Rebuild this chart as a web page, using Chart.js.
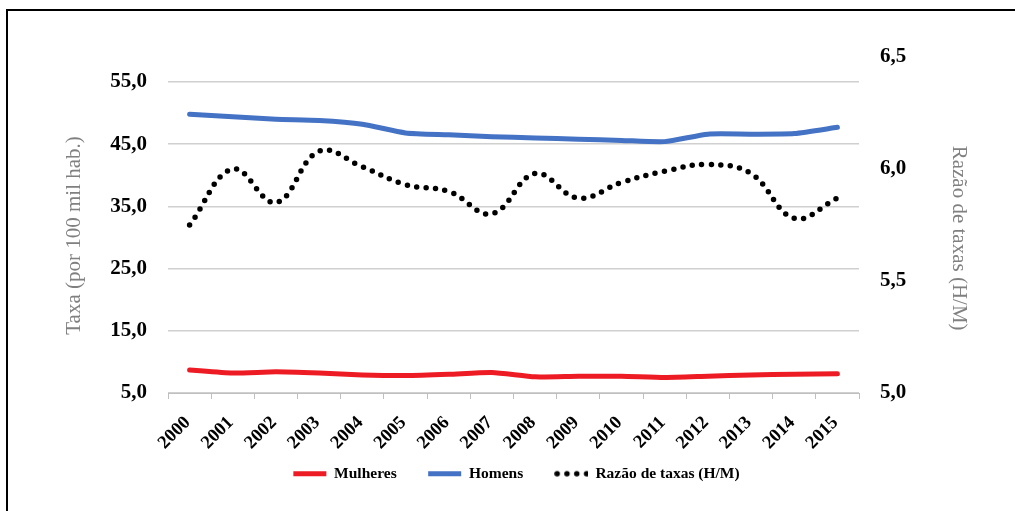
<!DOCTYPE html>
<html>
<head>
<meta charset="utf-8">
<script src="https://cdn.jsdelivr.net/npm/chart.js@4"></script>
<style>
  html, body { margin: 0; padding: 0; background: #fff; }
  #wrap { position: relative; width: 1015px; height: 511px; overflow: hidden; }
  #frame { position: absolute; left: 6px; top: 9px; width: 1100px; height: 600px;
           border-left: 2px solid #000; border-top: 2px solid #000; }
  #c { position: absolute; left: 0; top: 0; }
</style>
</head>
<body>
<div id="wrap">
  <div id="frame"></div>
  <canvas id="c" width="1015" height="511"></canvas>
</div>
<script>
// dados
const anos = ['2000','2001','2002','2003','2004','2005','2006','2007','2008','2009','2010','2011','2012','2013','2014','2015'];
const mulheres = [8.7, 8.2, 8.4, 8.2, 7.9, 7.8, 8.0, 8.3, 7.6, 7.7, 7.7, 7.5, 7.7, 7.9, 8.0, 8.1];
const homens = [49.8, 49.4, 49.0, 48.8, 48.2, 46.8, 46.5, 46.2, 46.0, 45.8, 45.6, 45.4, 46.6, 46.6, 46.7, 47.7];
const razao = [5.75, 6.00, 5.85, 6.08, 6.01, 5.93, 5.90, 5.80, 5.98, 5.87, 5.94, 5.99, 6.02, 5.98, 5.78, 5.87];

const ticksTaxa = [5, 15, 25, 35, 45, 55];
const ticksRazao = [5.0, 5.5, 6.0, 6.5];

const FONT = "'Liberation Serif', 'DejaVu Serif', serif";
const virgula = v => Number(v).toFixed(1).replace('.', ',');

// amostra pontilhada da legenda (o ponto 'line' sai sólido)
function amostraPontos() {
    const cv = document.createElement('canvas');
    cv.width = 34; cv.height = 8;
    const g = cv.getContext('2d');
    g.strokeStyle = '#000';
    g.lineWidth = 5.5;
    g.lineCap = 'round';
    g.setLineDash([0, 9.8]);
    g.beginPath();
    g.moveTo(3, 4);
    g.lineTo(33, 4);
    g.stroke();
    return cv;
}
const pontosLegenda = amostraPontos();

new Chart(document.getElementById('c'), {
    type: 'line',
    data: {
        labels: anos,
        datasets: [
            {
                label: 'Mulheres',
                data: mulheres,
                yAxisID: 'y',
                borderColor: '#ED1C24',
                backgroundColor: '#ED1C24',
                borderWidth: 5,
                borderCapStyle: 'round',
                tension: 0.2,
                pointRadius: 0
            },
            {
                label: 'Homens',
                data: homens,
                yAxisID: 'y',
                borderColor: '#4472C4',
                backgroundColor: '#4472C4',
                borderWidth: 5,
                borderCapStyle: 'round',
                tension: 0.2,
                pointRadius: 0
            },
            {
                label: 'Razão de taxas (H/M)',
                data: razao,
                yAxisID: 'y2',
                borderColor: '#000',
                backgroundColor: '#000',
                borderWidth: 5.5,
                borderCapStyle: 'round',
                borderDash: [0, 9.5],
                tension: 0.4,
                pointRadius: 0
            }
        ]
    },
    options: {
        responsive: false,
        animation: false,
        layout: { padding: { left: 58, right: 40, top: 57, bottom: 19.5 } },
        plugins: {
            tooltip: { enabled: false },
            legend: {
                position: 'bottom',
                labels: {
                    usePointStyle: true,
                    pointStyle: 'line',
                    pointStyleWidth: 33,
                    padding: 16,
                    color: '#000',
                    font: { family: FONT, size: 15.5, weight: 'bold' },
                    generateLabels: chart => {
                        const items = Chart.defaults.plugins.legend.labels.generateLabels(chart);
                        items.forEach(it => {
                            if (it.datasetIndex === 2) it.pointStyle = pontosLegenda;
                            else it.text = it.text + '    '; // afastamento entre itens
                        });
                        return items;
                    }
                }
            }
        },
        scales: {
            x: {
                offset: true,
                grid: { offset: true, drawOnChartArea: false, drawTicks: true, tickLength: 6, color: '#BFBFBF' },
                border: { display: true, color: '#BFBFBF', width: 1 },
                ticks: {
                    autoSkip: false, minRotation: 45, maxRotation: 45, padding: 13, labelOffset: -2,
                    color: '#000', font: { family: FONT, size: 18.5, weight: 'bold' }
                },
                afterFit: s => { s.height = 57; }
            },
            y: {
                position: 'left',
                min: 5, max: 59,
                afterBuildTicks: s => { s.ticks = ticksTaxa.map(v => ({ value: v })); },
                grid: { color: '#D0D0D0', lineWidth: 1.5, drawTicks: false },
                border: { display: false },
                ticks: {
                    padding: 21, color: '#000',
                    font: { family: FONT, size: 21, weight: 'bold' },
                    callback: v => virgula(v)
                },
                title: {
                    display: true,
                    text: 'Taxa (por 100 mil hab.)    ',
                    color: '#808080',
                    font: { family: FONT, size: 21 }
                },
                afterFit: s => { s.width = 110; }
            },
            y2: {
                position: 'right',
                min: 5, max: 6.5,
                afterBuildTicks: s => { s.ticks = ticksRazao.map(v => ({ value: v })); },
                grid: { drawOnChartArea: false, drawTicks: false },
                border: { display: false },
                ticks: {
                    padding: 21, color: '#000',
                    font: { family: FONT, size: 21, weight: 'bold' },
                    callback: v => virgula(v)
                },
                title: {
                    display: true,
                    text: '     Razão de taxas (H/M)',
                    color: '#808080',
                    font: { family: FONT, size: 21 }
                },
                afterFit: s => { s.width = 116; }
            }
        }
    }
});
</script>
</body>
</html>
